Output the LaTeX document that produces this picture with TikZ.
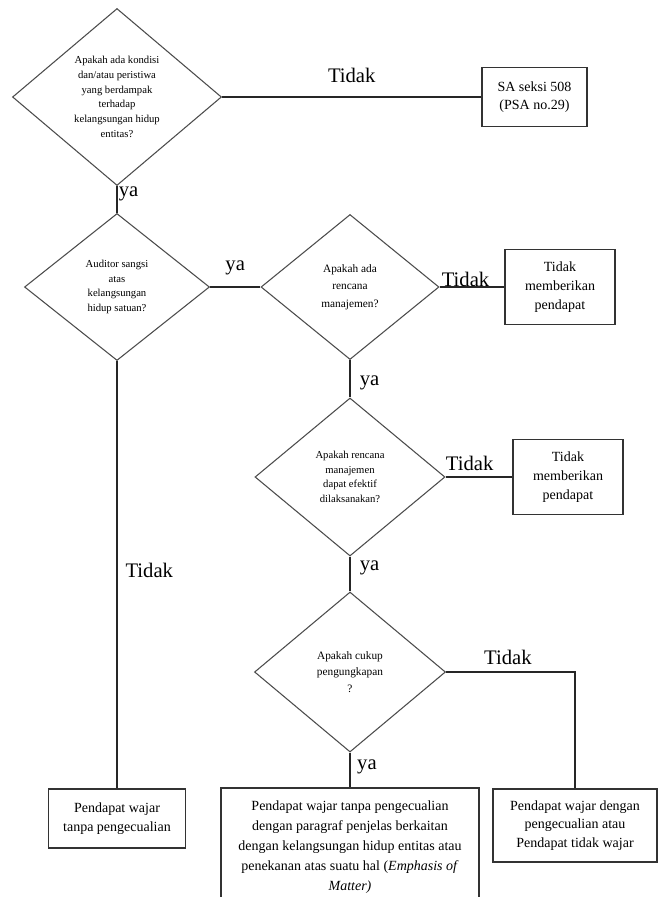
\documentclass[tikz,border=0pt]{standalone}
\usepackage{fontspec}
\setmainfont{Liberation Serif}
\usepackage{tikz}
\usetikzlibrary{shapes.geometric}

\begin{document}
\begin{tikzpicture}[x=0.75pt, y=-0.75pt, line width=0.8pt]

	\tikzstyle{decision}=[diamond, draw=black!70, inner sep=0pt, align=center, font=\fontsize{8}{11}\selectfont]
	\tikzstyle{outcome}=[rectangle, draw=black!80, align=center, font=\fontsize{10.5}{14}\selectfont]
	\tikzstyle{lbl}=[inner sep=1pt, text=black, font=\fontsize{15.5}{18}\selectfont]
	\tikzstyle{every edge}=[draw, black!85]

	\useasboundingbox (0,0) rectangle (662,897);

	% decisions
	\node[decision, minimum width=156.75pt, minimum height=132.75pt] (d1) at (117,97)
		{Apakah ada kondisi\\ dan/atau peristiwa\\ yang berdampak\\ terhadap\\ kelangsungan hidup\\ entitas?};
	\node[decision, minimum width=138.75pt, minimum height=110.25pt] (d2) at (117,287)
		{Auditor sangsi\\ atas\\ kelangsungan\\ hidup satuan?};
	\node[decision, minimum width=133.5pt, minimum height=108.75pt, font=\fontsize{8.5}{13}\selectfont] (d3) at (350,287)
		{Apakah ada\\ rencana\\ manajemen?};
	\node[decision, minimum width=142.5pt, minimum height=118.5pt] (d4) at (350,477)
		{Apakah rencana\\ manajemen\\ dapat efektif\\ dilaksanakan?};
	\node[decision, minimum width=143.25pt, minimum height=120pt, font=\fontsize{8.5}{12.5}\selectfont] (d5) at (350,672)
		{Apakah cukup\\ pengungkapan\\ ?};

	% outcomes
	\node[outcome, minimum width=78.75pt, minimum height=44.25pt] (sa) at (534.5,97)
		{SA seksi 508\\ (PSA no.29)};
	\node[outcome, minimum width=82.5pt, minimum height=56.25pt] (tm1) at (560,287)
		{Tidak\\ memberikan\\ pendapat};
	\node[outcome, minimum width=82.5pt, minimum height=56.25pt] (tm2) at (568,477)
		{Tidak\\ memberikan\\ pendapat};
	\node[outcome, minimum width=102.75pt, minimum height=44.25pt] (lb) at (117,818.5)
		{Pendapat wajar\\ tanpa pengecualian};
	\node[outcome, minimum width=193.5pt, minimum height=88.5pt, font=\fontsize{10.5}{15}\selectfont] (cb) at (350,847)
		{Pendapat wajar tanpa pengecualian\\ dengan paragraf penjelas berkaitan\\ dengan kelangsungan hidup entitas atau\\ penekanan atas suatu hal (\textit{Emphasis of}\\ \textit{Matter)}};
	\node[outcome, minimum width=123pt, minimum height=54.75pt] (rb) at (575,825.5)
		{Pendapat wajar dengan\\ pengecualian atau\\ Pendapat tidak wajar};

	% From d1
	\path (d1) edge node[lbl, above=9pt] {Tidak} (sa);
	\path (d1) edge node[lbl, pos=0.3, right] {ya} (d2);

	% From d2
	\path (d2) edge node[lbl, above=8pt] {ya} (d3);
	\path (d2) edge node[lbl, pos=0.49, right=5pt] {Tidak} (lb);

	% From d3
	\path (d3) edge node[lbl, pos=0.4, above, inner sep=0pt] {Tidak} (tm1);
	\path (d3) edge node[lbl, pos=0.62, right=6pt] {ya} (d4);

	% From d4
	\path (d4) edge node[lbl, pos=0.36, above=3pt] {Tidak} (tm2);
	\path (d4) edge node[lbl, pos=0.33, right=6pt] {ya} (d5);

	% From d5
	\draw[black!85] (d5.east) -| node[lbl, pos=0.24, above=4pt] {Tidak} (rb.north);
	\path (d5) edge node[lbl, pos=0.42, right=4pt] {ya} (cb);

\end{tikzpicture}
\end{document}
